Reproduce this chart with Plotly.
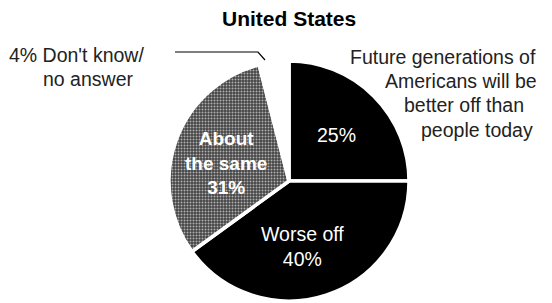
import plotly.graph_objects as go

categories = ["Better off", "Worse off", "About the same", "Don't know/no answer"]
values = [25, 40, 31, 4]
slice_colors = ["#000000", "#000000", "#444444", "#ffffff"]
patterns = ["", "", ".", ""]

W, H = 552, 303
FONT = "Liberation Sans, Arial, Helvetica, sans-serif"

def px(x):
    return x / W

def py(y):
    return 1 - y / H

fig = go.Figure()
fig.add_trace(go.Pie(
    labels=categories,
    values=values,
    sort=False,
    direction="clockwise",
    rotation=0,
    textinfo="none",
    hoverinfo="none",
    showlegend=False,
    marker=dict(
        colors=slice_colors,
        line=dict(color="white", width=3.5),
        pattern=dict(shape=patterns, fgcolor="#b0b0b0", bgcolor=slice_colors,
                     size=3, solidity=0.35),
    ),
    domain=dict(x=[169 / W, 409 / W], y=[2 / H, 242 / H]),
))

anns = []
anns.append(dict(text="<b>United States</b>", x=px(289), y=py(19), font=dict(size=21, color="black")))
anns.append(dict(text=f"{values[0]}%", x=px(336), y=py(135), font=dict(size=19.5, color="white")))
anns.append(dict(text=f"<b>About<br>the same<br>{values[2]}%</b>", x=px(226), y=py(163),
                 font=dict(size=19, color="white")))
anns.append(dict(text=f"Worse off<br>{values[1]}%", x=px(302), y=py(246), font=dict(size=19.5, color="white")))

right_lines = [("Future generations of", 348, 57), ("Americans will be", 383, 81),
               ("better off than", 402, 105), ("people today", 419, 130)]
for t, x, y in right_lines:
    anns.append(dict(text=t, x=px(x), y=py(y), xanchor="left", font=dict(size=19.5, color="#222")))

left_lines = [(f"{values[3]}% Don't know/", 7, 55), ("no answer", 41, 79)]
for t, x, y in left_lines:
    anns.append(dict(text=t, x=px(x), y=py(y), xanchor="left", font=dict(size=19.5, color="#222")))

for a in anns:
    a.setdefault("xanchor", "center")
    a.update(xref="paper", yref="paper", yanchor="middle", showarrow=False)

fig.update_layout(
    width=W, height=H, autosize=False,
    margin=dict(l=0, r=0, t=0, b=0),
    paper_bgcolor="white", plot_bgcolor="white",
    font=dict(family=FONT),
    annotations=anns,
    shapes=[dict(type="path", xref="paper", yref="paper",
                 path=f"M {175 / W} {1 - 52 / H} L {258 / W} {1 - 52 / H} L {265 / W} {1 - 60 / H}",
                 line=dict(color="black", width=1.2))],
)

fig.write_html("out.html", config={"displayModeBar": False},
               post_script="document.body.style.margin='0';")
